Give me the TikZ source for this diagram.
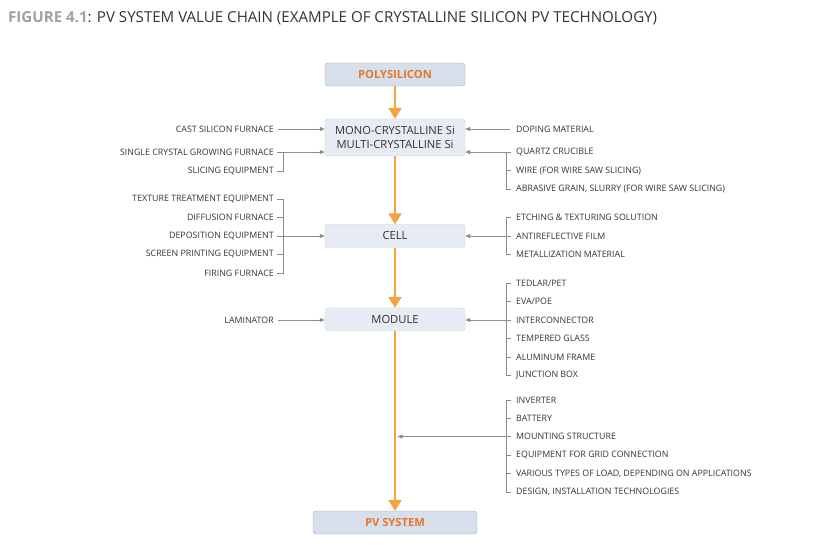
\documentclass[tikz,border=0pt]{standalone}
\usepackage{fontspec}
\setmainfont{Open Sans}
\usetikzlibrary{arrows.meta,calc}
\definecolor{txtgray}{HTML}{333333}
\definecolor{figgray}{HTML}{9AA1A8}
\definecolor{linegray}{HTML}{8C8C8C}
\definecolor{chainorange}{HTML}{F5A33F}
\definecolor{labelorange}{HTML}{E8772E}
\definecolor{endfill}{HTML}{D6DFEB}
\definecolor{enddraw}{HTML}{9CACC6}
\definecolor{stepfill}{HTML}{E6EBF4}
\definecolor{stepdraw}{HTML}{C6D1E2}
\begin{document}
\begin{tikzpicture}[
    x=1pt, y=-1pt,
    endbox/.style={rectangle, draw=enddraw, fill=endfill, rounded corners=3pt, minimum width=140pt, minimum height=23pt, text=labelorange, font=\fontsize{11.2}{12}\selectfont\bfseries},
    stagebox/.style={rectangle, draw=stepdraw, fill=stepfill, rounded corners=3pt, minimum width=140pt, minimum height=23pt, text=txtgray, align=center, font=\fontsize{11.2}{14.5}\selectfont},
    lbl/.style={inner sep=0pt, text=txtgray, font=\fontsize{8.85}{10}\selectfont},
    gline/.style={draw=linegray, line width=0.7pt},
    feed/.style={gline, -{Triangle[width=4pt,length=5pt]}},
    main/.style={draw=chainorange, line width=2.4pt, -{Triangle[width=13pt,length=11pt]}}
]
\useasboundingbox (0,0) rectangle (820,553);

% Titre
\node[anchor=base west, inner sep=0pt, text=txtgray, font=\fontsize{15.1}{16}\selectfont] (title) at (8,23)
    {\textcolor{figgray}{\bfseries FIGURE 4.1}: PV SYSTEM VALUE CHAIN (EXAMPLE OF CRYSTALLINE SILICON PV TECHNOLOGY)};

% Chaine principale
\node[endbox] (poly) at (395,74.5) {POLYSILICON};
\node[stagebox, minimum height=37pt] (mono) at (395,137.5) {MONO-CRYSTALLINE Si\\MULTI-CRYSTALLINE Si};
\node[stagebox] (cell) at (395,236) {CELL};
\node[stagebox] (module) at (395,319.5) {MODULE};
\node[endbox, minimum width=164pt] (pvs) at (395,522.5) {PV SYSTEM};

\draw[main] (poly) -- (mono);
\draw[main] (mono) -- (cell);
\draw[main] (cell) -- (module);
\draw[main] (module) -- (pvs);

% Equipements (gauche)
\node[lbl, anchor=east] (csf) at (274,129) {CAST SILICON FURNACE};
\node[lbl, anchor=east] (scg) at (274,152) {SINGLE CRYSTAL GROWING FURNACE};
\node[lbl, anchor=east] (sle) at (274,171) {SLICING EQUIPMENT};

\node[lbl, anchor=east] (tte) at (274,199) {TEXTURE TREATMENT EQUIPMENT};
\node[lbl, anchor=east] (dfu) at (274,217.5) {DIFFUSION FURNACE};
\node[lbl, anchor=east] (deq) at (274,236) {DEPOSITION EQUIPMENT};
\node[lbl, anchor=east] (spe) at (274,254.5) {SCREEN PRINTING EQUIPMENT};
\node[lbl, anchor=east] (ffu) at (274,273) {FIRING FURNACE};

\node[lbl, anchor=east] (lam) at (274,320) {LAMINATOR};

\draw[feed] ([xshift=4pt]csf.east) -- (mono.west |- csf.east);
\draw[gline] ([xshift=3pt]scg.east) -- ++(6,0) |- ([xshift=3pt]sle.east);
\draw[feed] ([xshift=9pt]scg.east) -- (mono.west |- scg.east);

\draw[gline] ([xshift=3pt]tte.east) -- ++(6,0) |- ([xshift=3pt]ffu.east);
\draw[gline] ([xshift=3pt]dfu.east) -- ++(6,0);
\draw[gline] ([xshift=3pt]spe.east) -- ++(6,0);
\draw[feed] ([xshift=3pt]deq.east) -- (cell.west |- deq.east);

\draw[feed] ([xshift=4pt]lam.east) -- (module.west |- lam.east);

% Materiaux (droite)
\node[lbl, anchor=west] (dop) at (516,129) {DOPING MATERIAL};
\node[lbl, anchor=west] (qcr) at (516,152) {QUARTZ CRUCIBLE};
\node[lbl, anchor=west] (wir) at (516,170.5) {WIRE (FOR WIRE SAW SLICING)};
\node[lbl, anchor=west] (abr) at (516,189) {ABRASIVE GRAIN, SLURRY (FOR WIRE SAW SLICING)};

\node[lbl, anchor=west] (ets) at (516,217.5) {ETCHING \& TEXTURING SOLUTION};
\node[lbl, anchor=west] (arf) at (516,236) {ANTIREFLECTIVE FILM};
\node[lbl, anchor=west] (mtm) at (516,254.5) {METALLIZATION MATERIAL};

\node[lbl, anchor=west] (tdl) at (516,283) {TEDLAR/PET};
\node[lbl, anchor=west] (eva) at (516,301.5) {EVA/POE};
\node[lbl, anchor=west] (icn) at (516,320) {INTERCONNECTOR};
\node[lbl, anchor=west] (tgl) at (516,338.5) {TEMPERED GLASS};
\node[lbl, anchor=west] (alf) at (516,357) {ALUMINUM FRAME};
\node[lbl, anchor=west] (jbx) at (516,375.5) {JUNCTION BOX};

\node[lbl, anchor=west] (inv) at (516,400) {INVERTER};
\node[lbl, anchor=west] (bat) at (516,418) {BATTERY};
\node[lbl, anchor=west] (mst) at (516,436.5) {MOUNTING STRUCTURE};
\node[lbl, anchor=west] (egc) at (516,455) {EQUIPMENT FOR GRID CONNECTION};
\node[lbl, anchor=west] (vtl) at (516,473.5) {VARIOUS TYPES OF LOAD, DEPENDING ON APPLICATIONS};
\node[lbl, anchor=west] (dit) at (516,492) {DESIGN, INSTALLATION TECHNOLOGIES};

\draw[feed] ([xshift=-6pt]dop.west) -- (mono.east |- dop.west);
\draw[gline] ([xshift=-5pt]qcr.west) -- ++(-5,0) |- ([xshift=-5pt]abr.west);
\draw[gline] ([xshift=-5pt]wir.west) -- ++(-5,0);
\draw[feed] ([xshift=-10pt]qcr.west) -- (mono.east |- qcr.west);

\draw[gline] ([xshift=-5pt]ets.west) -- ++(-5,0) |- ([xshift=-5pt]mtm.west);
\draw[feed] ([xshift=-5pt]arf.west) -- (cell.east |- arf.west);

\draw[gline] ([xshift=-5pt]tdl.west) -- ++(-5,0) |- ([xshift=-5pt]jbx.west);
\draw[gline] ([xshift=-5pt]eva.west) -- ++(-5,0);
\draw[gline] ([xshift=-5pt]tgl.west) -- ++(-5,0);
\draw[gline] ([xshift=-5pt]alf.west) -- ++(-5,0);
\draw[feed] ([xshift=-5pt]icn.west) -- (module.east |- icn.west);

\draw[gline] ([xshift=-5pt]inv.west) -- ++(-5,0) |- ([xshift=-5pt]dit.west);
\draw[gline] ([xshift=-5pt]bat.west) -- ++(-5,0);
\draw[gline] ([xshift=-5pt]egc.west) -- ++(-5,0);
\draw[gline] ([xshift=-5pt]vtl.west) -- ++(-5,0);
\coordinate (tap) at ([xshift=2.5pt]module.south |- mst.west);
\draw[feed] ([xshift=-5pt]mst.west) -- (tap);

\end{tikzpicture}
\end{document}
